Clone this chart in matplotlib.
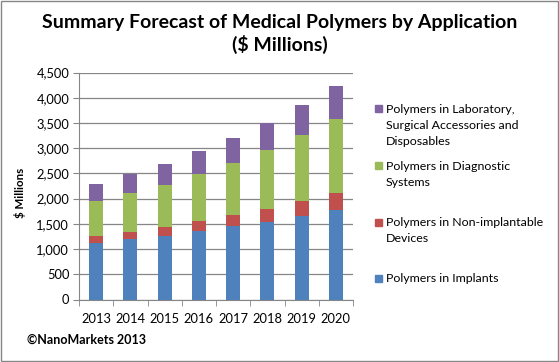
import numpy as np
import matplotlib.pyplot as plt
from matplotlib.patches import Rectangle

plt.rcParams['font.family'] = ['Lato', 'DejaVu Sans']

# Data ($ Millions)
years = ['2013', '2014', '2015', '2016', '2017', '2018', '2019', '2020']
implants = [1123, 1202, 1268, 1361, 1466, 1546, 1664, 1783]
non_implantable = [139, 139, 172, 198, 212, 251, 291, 331]
diagnostic = [693, 773, 832, 938, 1030, 1169, 1308, 1466]
laboratory = [337, 383, 416, 449, 495, 535, 594, 654]

series_names = ['Polymers in Implants',
                'Polymers in Non-implantable\nDevices',
                'Polymers in Diagnostic\nSystems',
                'Polymers in Laboratory,\nSurgical Accessories and\nDisposables']
colors = ['#4F81BD', '#C0504D', '#9BBB59', '#8064A2']

W, H = 559, 362
fig = plt.figure(figsize=(W / 100, H / 100), dpi=100)
ax = fig.add_axes([79 / W, 1 - 299.5 / H, 274 / W, 227 / H])

x = np.arange(len(years))
bottom = np.zeros(len(years))
for vals, name, c in zip([implants, non_implantable, diagnostic, laboratory], series_names, colors):
    ax.bar(x, vals, width=0.41, bottom=bottom, color=c, label=name, zorder=3)
    bottom += np.array(vals)

ax.set_xlim(-0.5, len(years) - 0.5)
ax.set_ylim(0, 4500)
ax.set_yticks(np.arange(0, 4501, 500))
ax.set_yticklabels([f'{v:,}' for v in range(0, 4501, 500)], fontsize=9.3)
ax.set_xticks(x)
ax.set_xticklabels(years, fontsize=9.3)
ax.set_xticks(np.arange(-0.5, len(years), 1), minor=True)
ax.tick_params(axis='x', which='major', length=0, pad=10)
ax.tick_params(axis='x', which='minor', length=4, color='#868686')
ax.tick_params(axis='y', length=4, color='#868686', pad=3)
ax.grid(axis='y', color='#868686', linewidth=0.9, zorder=0)
for s in ['top', 'right']:
    ax.spines[s].set_visible(False)
for s in ['left', 'bottom']:
    ax.spines[s].set_color('#868686')

ax.set_ylabel('$ Millions', fontsize=8.3, fontweight='bold')
ax.yaxis.set_label_coords(-53 / 274, 0.47)

fig.text(279.5 / W, 1 - 34 / H, 'Summary Forecast of Medical Polymers by Application\n($ Millions)',
         ha='center', va='center', fontsize=14, fontweight='bold', linespacing=1.3)

# legend drawn Excel-style: marker beside the first line of each entry
first_line_y = [278, 222, 166, 109]
line_step = 16.3
for name, c, y0 in zip(series_names, colors, first_line_y):
    fig.patches.append(Rectangle((375 / W, 1 - (y0 + 3.5) / H), 7 / W, 7 / H,
                                 transform=fig.transFigure, color=c))
    for i, line in enumerate(name.split('\n')):
        fig.text(386 / W, 1 - (y0 + i * line_step) / H, line, fontsize=8.9,
                 ha='left', va='center')

fig.text(27 / W, 1 - 340 / H, '©NanoMarkets 2013', fontsize=9,
         fontweight='bold', va='center', ha='left')

fig.patches.append(Rectangle((0.001, 0.002), 0.997, 0.995, transform=fig.transFigure,
                             fill=False, edgecolor='#868686', linewidth=1))

fig.savefig('out.png', dpi=100)
